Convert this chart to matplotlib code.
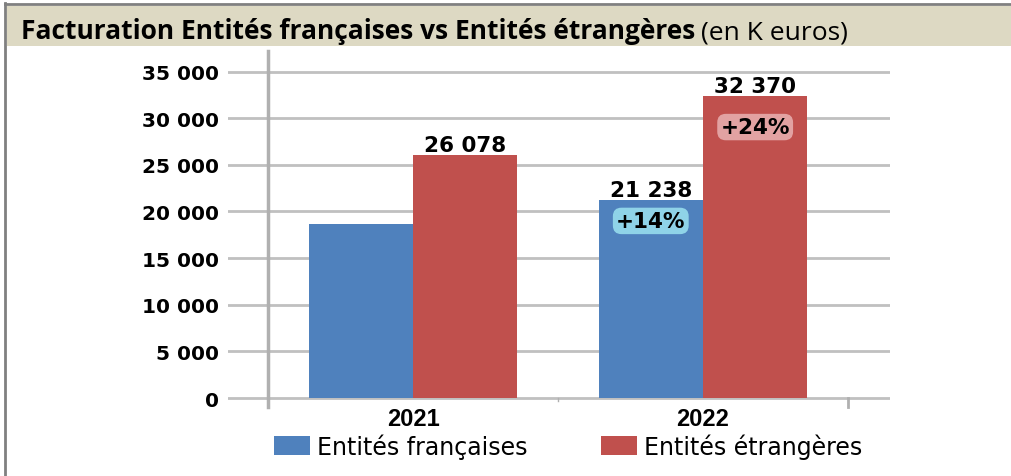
import matplotlib.pyplot as plt
import numpy as np
from matplotlib.patches import Rectangle, Patch

# données (K euros)
annees = ["2021", "2022"]
series = ["Entités françaises", "Entités étrangères"]
fr_vals = [18630, 21238]
etr_vals = [26078, 32370]
evolutions = ["+14%", "+24%"]
yticks = [0, 5000, 10000, 15000, 20000, 25000, 30000, 35000]

bleu = "#4f81bd"
rouge = "#c0504d"

W, H = 1011, 477
fig = plt.figure(figsize=(W / 100, H / 100), dpi=100)
fig.patch.set_facecolor("white")


def fx(px):
    return px / W


def fy(py):
    return 1 - py / H


# cadre et bandeau de titre
fig.add_artist(Rectangle((fx(7), fy(47)), fx(1011 - 7), 40 / H, transform=fig.transFigure,
                         facecolor="#ddd9c3", edgecolor="none", zorder=0))
fig.add_artist(plt.Line2D([fx(5), fx(5)], [fy(4), fy(477)], transform=fig.transFigure,
                          color="#808080", lw=2))
fig.add_artist(plt.Line2D([fx(5), fx(1011)], [fy(5), fy(5)], transform=fig.transFigure,
                          color="#808080", lw=2))

t1 = fig.text(fx(21), fy(39), "Facturation Entités françaises vs Entités étrangères",
              fontfamily="Open Sans", fontweight="bold", fontsize=19, va="baseline", ha="left")
fig.canvas.draw()
bb = t1.get_window_extent()
fig.text(bb.x1 / W + fx(6), fy(39), "(en K euros)", fontfamily="Open Sans",
         fontsize=19, va="baseline", ha="left")

# zone du graphique
ymin, ymax = -2300, 37200
x0, x1 = -0.638, 1.645
ax = fig.add_axes([fx(228), fy(420.5), fx(890 - 228), (420.5 - 52) / H])
ax.set_xlim(x0, x1)
ax.set_ylim(ymin, ymax)
for s in ax.spines.values():
    s.set_visible(False)

x = np.arange(len(annees))
w = 0.36
ax.bar(x - w / 2, fr_vals, w, color=bleu, zorder=3)
ax.bar(x + w / 2, etr_vals, w, color=rouge, zorder=3)

ax.set_yticks(yticks)
ax.set_yticklabels([f"{v:,}".replace(",", " ") for v in yticks],
                   fontfamily="DejaVu Sans", fontweight="bold", fontsize=14.5)
ax.tick_params(axis="y", length=0, pad=6.5)
ax.yaxis.grid(True, color="#c0c0c0", lw=2)
ax.set_axisbelow(True)

# axe vertical et graduations
ax.plot([-0.5, -0.5], [-960, ymax], color="#b0b0b0", lw=2.5, zorder=2, clip_on=False)
ax.plot([1.5, 1.5], [-960, 0], color="#b0b0b0", lw=2, zorder=2)
ax.plot([0.5, 0.5], [-300, 0], color="#b0b0b0", lw=1, zorder=2)

ax.set_xticks(x)
ax.set_xticklabels(annees, fontfamily="Liberation Sans", fontweight="bold", fontsize=17)
ax.tick_params(axis="x", length=0, pad=-9)

# étiquettes de valeurs
lab = dict(fontfamily="DejaVu Sans", fontweight="bold", fontsize=15.5,
           ha="center", va="bottom")
ax.annotate("26 078", (x[0] + w / 2, etr_vals[0]), xytext=(0, 0),
            textcoords="offset pixels", **lab)
ax.annotate("21 238", (x[1] - w / 2, fr_vals[1]), xytext=(0, 0),
            textcoords="offset pixels", **lab)
ax.annotate("32 370", (x[1] + w / 2, etr_vals[1]), xytext=(0, 0),
            textcoords="offset pixels", **lab)

box_cols = ["#8fd3e8", "#e2a2a2"]
pct = dict(textcoords="offset pixels", fontfamily="DejaVu Sans", fontweight="bold",
           fontsize=15.5, ha="center", va="center")
ax.annotate(evolutions[0], (x[1] - w / 2, fr_vals[1]), xytext=(0, -21),
            bbox=dict(boxstyle="round,pad=0.15,rounding_size=0.4", fc=box_cols[0], ec="none"),
            **pct)
ax.annotate(evolutions[1], (x[1] + w / 2, etr_vals[1]), xytext=(0, -31),
            bbox=dict(boxstyle="round,pad=0.15,rounding_size=0.4", fc=box_cols[1], ec="none"),
            **pct)

# légende
handles = [Patch(facecolor=bleu, label=series[0]), Patch(facecolor=rouge, label=series[1])]
fig.legend(handles=handles, loc="center", bbox_to_anchor=(fx(568), fy(447)), ncol=2,
           frameon=False, prop=dict(family="DejaVu Sans", size=17),
           handlelength=1.52, handleheight=0.85, handletextpad=0.3, columnspacing=3.1,
           borderpad=0)

fig.savefig("out.png", dpi=100)
